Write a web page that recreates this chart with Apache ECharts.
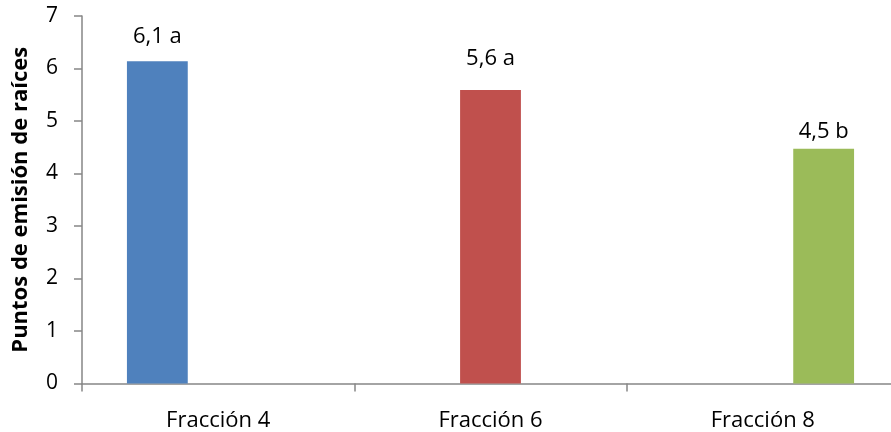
<!DOCTYPE html>
<html>
<head>
<meta charset="utf-8">
<script src="https://cdn.jsdelivr.net/npm/echarts@6/dist/echarts.min.js"></script>
<style>
html,body{margin:0;padding:0;background:#fff;}
#chart{width:891px;height:432px;}
</style>
</head>
<body>
<div id="chart"></div>
<script>
const categories = ['Fracción 4', 'Fracción 6', 'Fracción 8'];
const values = [6.14, 5.59, 4.47];
const labelTexts = ['6,1 a', '5,6 a', '4,5 b'];
const colors = ['#4F81BD', '#C0504D', '#9BBB59'];
const labelDistances = [13, 20, 6];
const yTicks = [0, 1, 2, 3, 4, 5, 6, 7];
const yAxisTitle = 'Puntos de emisión de raíces';

const FONT = '"Open Sans", sans-serif';
const series = categories.map((c, i) => ({
  name: c,
  type: 'bar',
  barGap: '0%',
  barCategoryGap: '33%',
  itemStyle: { color: colors[i] },
  label: {
    show: true,
    position: 'top',
    distance: labelDistances[i],
    formatter: () => labelTexts[i],
    color: '#000',
    fontFamily: FONT,
    fontSize: 22
  },
  data: categories.map((_, j) => (j === i ? values[i] : '-'))
}));

const chart = echarts.init(document.getElementById('chart'), null, { renderer: 'canvas' });
chart.setOption({
  animation: false,
  backgroundColor: '#fff',
  grid: { left: 82, top: 16, width: 817, height: 367.5, containLabel: false, outerBoundsMode: 'none' },
  xAxis: {
    type: 'category',
    data: categories,
    axisLine: { lineStyle: { color: '#868686', width: 1.5 } },
    axisTick: { show: true, length: 8, lineStyle: { color: '#868686', width: 1.5 } },
    axisLabel: { color: '#000', fontFamily: FONT, fontSize: 22, margin: 26 }
  },
  yAxis: {
    type: 'value',
    min: yTicks[0],
    max: yTicks[yTicks.length - 1],
    interval: 1,
    name: yAxisTitle,
    nameLocation: 'middle',
    nameGap: 50,
    nameTextStyle: { color: '#000', fontFamily: FONT, fontSize: 22, fontWeight: 'bold' },
    axisLine: { show: true, lineStyle: { color: '#868686', width: 1.5 } },
    axisTick: { show: true, length: 8, lineStyle: { color: '#868686', width: 1.5 } },
    axisLabel: { color: '#000', fontFamily: FONT, fontSize: 21, margin: 24 },
    splitLine: { show: false }
  },
  series: series
});
</script>
</body>
</html>
